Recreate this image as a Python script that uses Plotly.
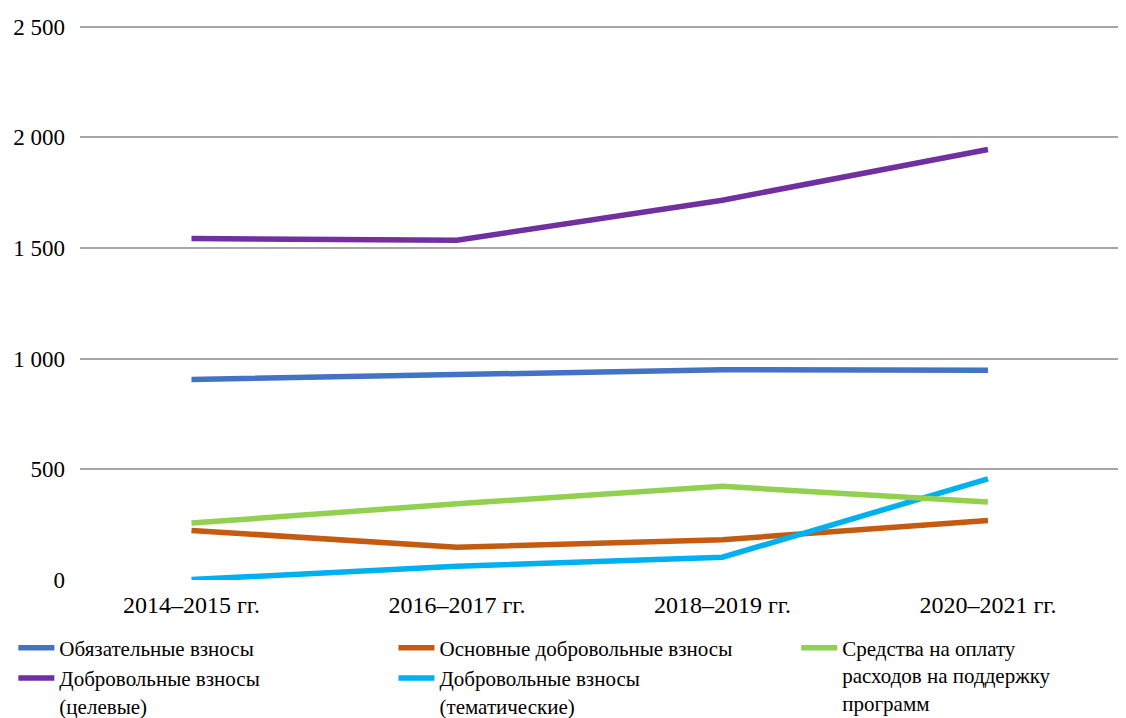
import plotly.graph_objects as go

# Периоды и значения (млн долл.)
periods = ['2014–2015 гг.', '2016–2017 гг.', '2018–2019 гг.', '2020–2021 гг.']

obyazatelnye = [906, 930, 950, 948]
osnovnye_dobr = [224, 148, 182, 269]
sredstva_podderzhka = [257, 344, 423, 352]
dobr_celevye = [1543, 1535, 1716, 1945]
dobr_tematicheskie = [2, 62, 103, 457]

y_ticks = [0, 500, 1000, 1500, 2000, 2500]

font_family = 'Liberation Serif'

fig = go.Figure()

# (name, values, colour, legend)
series = [
    ('Обязательные взносы', obyazatelnye, '#4472C4', 'legend'),
    ('Добровольные взносы<br>(целевые)', dobr_celevye, '#7030A0', 'legend'),
    ('Основные добровольные взносы', osnovnye_dobr, '#C55A11', 'legend2'),
    ('Добровольные взносы<br>(тематические)', dobr_tematicheskie, '#00B0F0', 'legend2'),
    ('Средства на оплату<br>расходов на поддержку<br>программ', sredstva_podderzhka, '#92D050', 'legend3'),
]

for name, vals, color, leg in series:
    fig.add_trace(go.Scatter(
        x=periods,
        y=vals,
        mode='lines',
        name=name,
        line=dict(color=color, width=5.5),
        legend=leg
    ))

legend_common = dict(
    orientation='v',
    yanchor='top',
    y=-0.085,
    xanchor='left',
    valign='top',
    font=dict(family=font_family, size=21, color='#000000'),
    bgcolor='rgba(0,0,0,0)',
    tracegroupgap=0,
    itemwidth=36,
)

# страница добавляет отступ 8px, поэтому фигура чуть меньше окна
fig.update_layout(
    width=1118,
    height=710,
    paper_bgcolor='white',
    plot_bgcolor='white',
    separators=', ',
    margin=dict(l=72, r=8, t=12, b=138, autoexpand=False),
    font=dict(family=font_family, size=22, color='#000000'),
    xaxis=dict(
        type='category',
        range=[-0.42, 3.49],
        showgrid=False,
        showline=False,
        zeroline=False,
        ticks='',
        ticklabelstandoff=8,
        tickfont=dict(size=24),
    ),
    yaxis=dict(
        range=[0, 2530],
        tickvals=y_ticks,
        tickformat=',d',
        showgrid=True,
        gridcolor='#A6A6A6',
        gridwidth=2,
        zeroline=False,
        showline=False,
        ticks='',
        ticklabelstandoff=14,
        tickfont=dict(size=23),
    ),
    legend=dict(x=-0.0642, **legend_common),
    legend2=dict(x=0.302, **legend_common),
    legend3=dict(x=0.69, **legend_common),
)

fig.write_html("out.html")
